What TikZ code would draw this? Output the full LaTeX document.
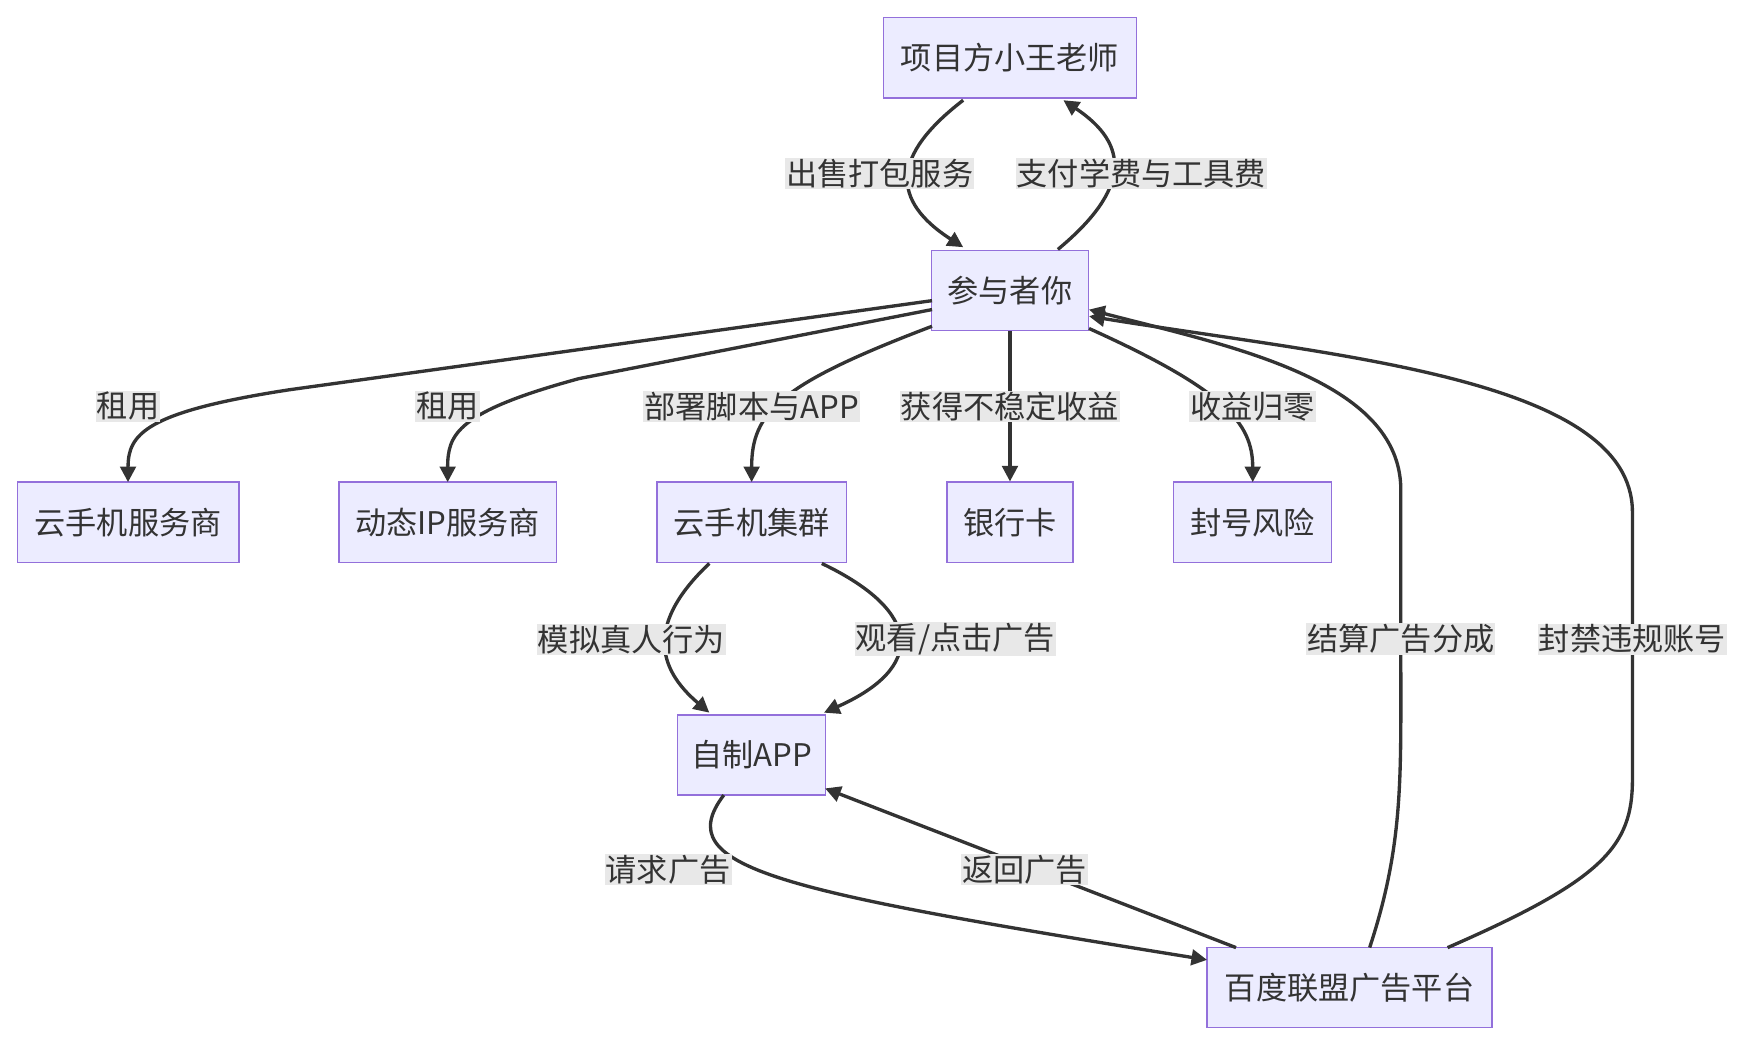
\documentclass[tikz,border=0pt]{standalone}
\usepackage{fontspec}
\setmainfont{Noto Sans CJK SC}
\usetikzlibrary{arrows.meta}
\definecolor{nfill}{HTML}{ECECFF}
\definecolor{ndraw}{HTML}{9370DB}
\definecolor{ln}{HTML}{333333}
\definecolor{lbg}{HTML}{E8E8E8}
\begin{document}
\begin{tikzpicture}[x=1pt,y=-1pt,
  box/.style={draw=ndraw,fill=nfill,line width=1.2pt,minimum height=72pt,inner xsep=8pt,font=\fontsize{28}{32}\selectfont,text=ln},
  e/.style={draw=ln,line width=3pt,-{Triangle[length=14pt,width=14pt]}},
  lb/.style={fill=lbg,inner sep=1pt,font=\fontsize{28}{32}\selectfont,text=ln}]
\useasboundingbox (0,0) rectangle (1568,940);
\node[box,minimum width=227pt] (pm) at (907,52) {项目方小王老师};
\node[box,minimum width=141pt] (you) at (907,261) {参与者你};
\node[box,minimum width=199pt] (c1) at (115,469) {云手机服务商};
\node[box,minimum width=195pt] (ip) at (402,469) {动态IP服务商};
\node[box,minimum width=170pt] (cl) at (675,469) {云手机集群};
\node[box,minimum width=113pt] (bk) at (907,469) {银行卡};
\node[box,minimum width=142pt] (rk) at (1125,469) {封号风险};
\node[box,minimum width=133pt] (app) at (675,678) {自制APP};
\node[box,minimum width=256pt] (bd) at (1212,887) {百度联盟广告平台};

\draw[e] (865,90) .. controls (800,140) and (800,180) .. (865,222);
\node[lb] at (790,156) {出售打包服务};
\draw[e] (950,224) .. controls (1015,170) and (1015,130) .. (955,90);
\node[lb] at (1025,156) {支付学费与工具费};
\draw[e] (837,270) -- (260,350) .. controls (130,370) and (115,390) .. (115,433);
\node[lb] at (115,365) {租用};
\draw[e] (837,278) -- (520,340) .. controls (410,370) and (402,390) .. (402,433);
\node[lb] at (402,365) {租用};
\draw[e] (837,293) .. controls (700,345) and (675,370) .. (675,433);
\node[lb] at (675,365) {部署脚本与APP};
\draw[e] (you) -- (bk);
\node[lb] at (907,365) {获得不稳定收益};
\draw[e] (978,295) .. controls (1100,350) and (1125,380) .. (1125,433);
\node[lb] at (1125,365) {收益归零};
\draw[e] (637,506) .. controls (580,560) and (590,600) .. (637,640);
\node[lb] at (567,574) {模拟真人行为};
\draw[e] (738,506) .. controls (830,550) and (830,600) .. (740,640);
\node[lb] at (858,574) {观看/点击广告};
\draw[e] (650,714) .. controls (600,780) and (700,800) .. (1084,862);
\node[lb] at (600,781) {请求广告};
\draw[e] (1110,851) -- (741,708);
\node[lb] at (920,781) {返回广告};
\draw[e] (1230,851) .. controls (1260,760) and (1258,700) .. (1258,600) -- (1258,440) .. controls (1258,340) and (1100,310) .. (978,278);
\node[lb] at (1258,574) {结算广告分成};
\draw[e] (1300,851) .. controls (1440,790) and (1466,760) .. (1466,700) -- (1466,460) .. controls (1466,340) and (1200,320) .. (978,284);
\node[lb] at (1466,574) {封禁违规账号};
\end{tikzpicture}
\end{document}
